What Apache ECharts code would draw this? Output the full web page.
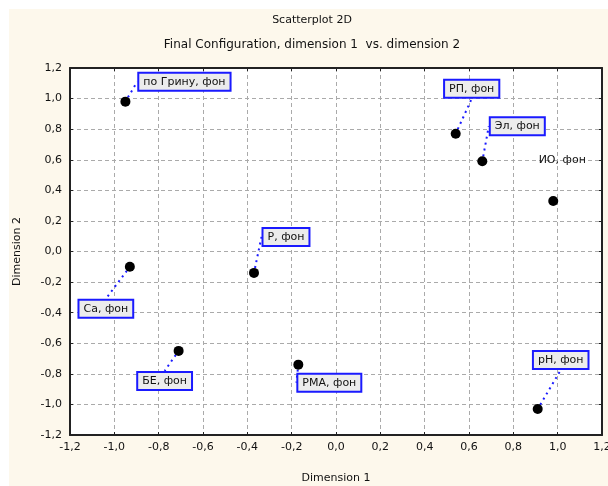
<!DOCTYPE html>
<html>
<head>
<meta charset="utf-8">
<script src="https://cdn.jsdelivr.net/npm/echarts@6/dist/echarts.min.js"></script>
<style>
html,body{margin:0;padding:0;background:#ffffff;}
#wrap{position:relative;width:608px;height:486px;background:#ffffff;overflow:hidden;}
#cream{position:absolute;left:9px;top:9px;right:0;bottom:0;background:#fdf8ec;}
#chart{position:absolute;left:0;top:0;width:608px;height:486px;}
</style>
</head>
<body>
<div id="wrap"><div id="cream"></div><div id="chart"></div></div>
<script>
const pointNames = ['по Грину, фон', 'РП, фон', 'Эл, фон', 'ИО, фон', 'Р, фон', 'Са, фон', 'БЕ, фон', 'РМА, фон', 'рН, фон'];
const dimension1 = [-0.95, 0.54, 0.66, 0.98, -0.37, -0.93, -0.71, -0.17, 0.91];
const dimension2 = [0.98, 0.77, 0.59, 0.33, -0.14, -0.10, -0.65, -0.74, -1.03];
const boxedLabel = [true, true, true, false, true, true, true, true, true];
// label placement (pixel offsets from the point), layout only
const labelOffsets = [[59,-20],[16,-45],[35,-35],[9,-41],[32,-36],[-24,42],[-14,30],[31,18],[23,-49]];

const fmt = v => { if (Math.abs(v) < 1e-9) v = 0; return v.toFixed(1).replace('.', ','); };
const fontFamily = '"DejaVu Sans", Verdana, sans-serif';
const textColor = '#111';

const data = pointNames.map((n, i) => {
  const item = { name: n, value: [dimension1[i], dimension2[i]] };
  if (!boxedLabel[i]) {
    item.label = { backgroundColor: 'transparent', borderWidth: 0 };
    item.labelLine = { show: false };
  }
  return item;
});

const chart = echarts.init(document.getElementById('chart'), null, { renderer: 'canvas' });
const axisCommon = {
  type: 'value', min: -1.2, max: 1.2, interval: 0.2,
  axisLine: { show: true, onZero: false, lineStyle: { color: '#222', width: 2 } },
  axisTick: { show: true, inside: true, length: 3, lineStyle: { color: '#222', width: 1 } },
  splitLine: { show: false }
};
chart.setOption({
  backgroundColor: 'transparent',
  animation: false,
  graphic: [
    { type: 'text', x: 312, y: 15, style: { text: 'Scatterplot 2D', font: '11px ' + fontFamily, fill: textColor, textAlign: 'center' } },
    { type: 'text', x: 312, y: 39, style: { text: 'Final Configuration, dimension 1  vs. dimension 2', font: '12px ' + fontFamily, fill: textColor, textAlign: 'center' } }
  ],
  grid: { left: 70, top: 68, right: 6, bottom: 51, show: true, backgroundColor: '#ffffff', borderWidth: 0, outerBoundsMode: 'none', containLabel: false },
  xAxis: [
    Object.assign({}, axisCommon, {
      position: 'bottom',
      name: 'Dimension 1', nameLocation: 'middle', nameGap: 38,
      nameTextStyle: { fontFamily, fontSize: 11, color: textColor },
      axisLabel: { formatter: fmt, fontFamily, fontSize: 11, color: textColor, margin: 7, showMaxLabel: true, showMinLabel: true },
      splitLine: { show: true, lineStyle: { color: '#aaa', type: [4, 3], width: 1 } }
    }),
    Object.assign({}, axisCommon, { position: 'top', axisLabel: { show: false } })
  ],
  yAxis: [
    Object.assign({}, axisCommon, {
      position: 'left',
      name: 'Dimension 2', nameLocation: 'middle', nameGap: 47, nameRotate: 90,
      nameTextStyle: { fontFamily, fontSize: 11, color: textColor },
      axisLabel: { formatter: fmt, fontFamily, fontSize: 11, color: textColor, margin: 8 },
      splitLine: { show: true, lineStyle: { color: '#aaa', type: [4, 3], width: 1 } }
    }),
    Object.assign({}, axisCommon, { position: 'right', axisLabel: { show: false } })
  ],
  series: [{
    type: 'scatter',
    symbol: 'circle',
    symbolSize: 10,
    itemStyle: { color: '#000', opacity: 1 },
    data: data,
    label: {
      show: true,
      position: 'inside',
      formatter: '{b}',
      fontFamily, fontSize: 11, color: '#111', lineHeight: 14,
      backgroundColor: '#ececec',
      borderColor: '#1a1aff', borderWidth: 2,
      padding: [1, 4, 1, 4]
    },
    labelLine: { show: true, lineStyle: { color: '#1a1aff', width: 2, type: [2, 4] } },
    labelLayout: function (p) {
      const o = labelOffsets[p.dataIndex];
      return { dx: o[0], dy: o[1] };
    }
  }]
});
</script>
</body>
</html>
